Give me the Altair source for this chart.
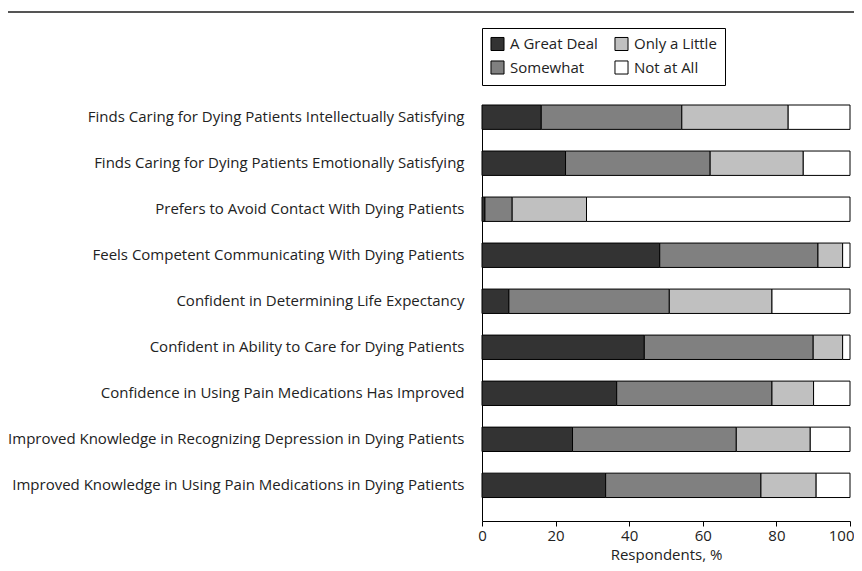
import altair as alt
import pandas as pd

categories = [
    "Finds Caring for Dying Patients Intellectually Satisfying",
    "Finds Caring for Dying Patients Emotionally Satisfying",
    "Prefers to Avoid Contact With Dying Patients",
    "Feels Competent Communicating With Dying Patients",
    "Confident in Determining Life Expectancy",
    "Confident in Ability to Care for Dying Patients",
    "Confidence in Using Pain Medications Has Improved",
    "Improved Knowledge in Recognizing Depression in Dying Patients",
    "Improved Knowledge in Using Pain Medications in Dying Patients",
]
great_deal = [16.1, 22.7, 0.8, 48.3, 7.3, 44.1, 36.6, 24.6, 33.6]
somewhat = [38.2, 39.3, 7.4, 43.0, 43.6, 45.9, 42.2, 44.5, 42.2]
only_little = [28.9, 25.3, 20.2, 6.7, 27.9, 8.0, 11.3, 20.1, 15.0]
not_at_all = [16.8, 12.7, 71.6, 2.0, 21.2, 2.0, 9.9, 10.8, 9.2]

responses = ["A Great Deal", "Somewhat", "Only a Little", "Not at All"]
series = [great_deal, somewhat, only_little, not_at_all]
legend_order = ["A Great Deal", "Only a Little", "Somewhat", "Not at All"]
colors = {"A Great Deal": "#333333", "Somewhat": "#808080",
          "Only a Little": "#c0c0c0", "Not at All": "#ffffff"}

rows = []
for r_i, (resp, vals) in enumerate(zip(responses, series)):
    for cat, v in zip(categories, vals):
        rows.append({"item": cat, "response": resp, "value": v, "ord": r_i})
df = pd.DataFrame(rows)

FONT = "Open Sans"
TXT = "#222222"

bars = alt.Chart(df).mark_bar(stroke="black", strokeWidth=1).encode(
    x=alt.X("value:Q", stack="zero",
            scale=alt.Scale(domain=[0, 100], nice=False),
            axis=alt.Axis(values=[0, 20, 40, 60, 80, 100], title="Respondents, %",
                          grid=False, tickSize=5, domainColor="black", tickColor="black",
                          labelColor=TXT, titleColor=TXT, labelFlush=False,
                          labelAlign={"condition": {"test": "datum.value == 100", "value": "right"},
                                      "value": "center"},
                          labelOffset={"condition": {"test": "datum.value == 100", "value": 4},
                                       "value": 0},
                          labelFontSize=15, titleFontSize=15, labelFont=FONT, titleFont=FONT,
                          titleFontWeight="normal", labelPadding=2, titlePadding=4)),
    y=alt.Y("item:N", sort=categories, title=None,
            scale=alt.Scale(paddingInner=0.47, paddingOuter=0.255, align=0),
            axis=alt.Axis(ticks=False, domainColor="black", labelFontSize=15, labelFont=FONT,
                          labelColor=TXT, labelLimit=600, labelPadding=18)),
    color=alt.Color("response:N",
                    scale=alt.Scale(domain=legend_order,
                                    range=[colors[k] for k in legend_order]),
                    legend=alt.Legend(title=None, orient="none", legendX=0, legendY=-77,
                                      columns=2, direction="horizontal",
                                      symbolType="square", symbolSize=170,
                                      symbolStrokeColor="black", symbolStrokeWidth=1,
                                      symbolOpacity=1,
                                      labelFontSize=15, labelFont=FONT, labelColor=TXT,
                                      strokeColor="black", padding=8,
                                      columnPadding=14, rowPadding=5, labelOffset=5)),
    order=alt.Order("ord:Q"),
)

topline = alt.Chart(pd.DataFrame({"k": [0]})).mark_rule(color="#555", strokeWidth=2).encode(
    x=alt.value(-474), x2=alt.value(381), y=alt.value(-93)
)

chart = alt.layer(bars, topline).properties(
    width=368, height=416,
    autosize=alt.AutoSizeParams(type="none"),
    padding={"left": 474, "top": 97, "right": 4, "bottom": 42},
).configure_view(stroke=None)

chart.save("out.html", embed_options={"renderer": "svg", "actions": False})
